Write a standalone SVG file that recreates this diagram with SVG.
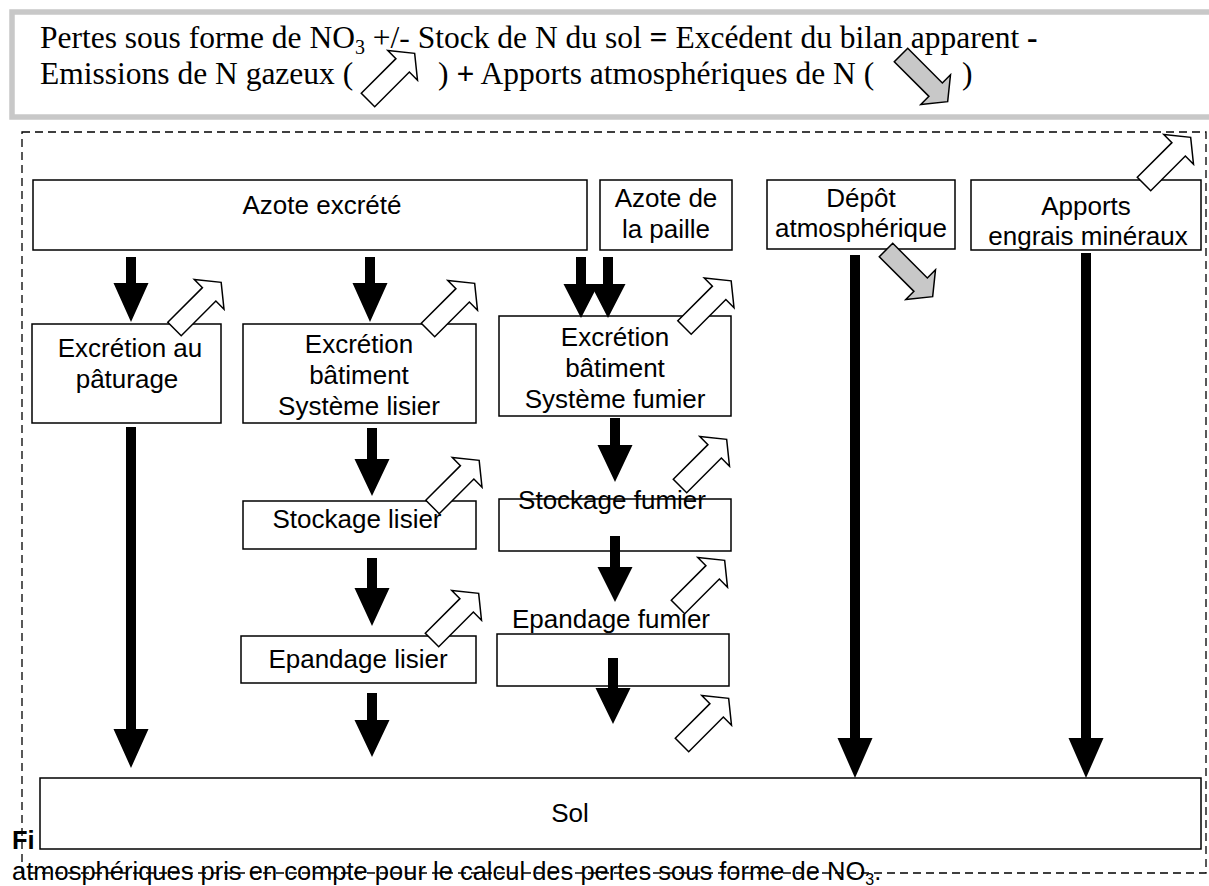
<svg xmlns="http://www.w3.org/2000/svg" xmlns:xlink="http://www.w3.org/1999/xlink" width="1209" height="886" viewBox="0 0 1209 886">
<defs>
<style>
.box{fill:#fff;stroke:#000;stroke-width:1.5}
.lbl{font-family:"Liberation Sans",Arial,sans-serif;font-size:26px;text-anchor:middle;fill:#000}
.hdr{font-family:"Liberation Serif","Times New Roman",serif;font-size:31.5px;fill:#000}
.cap{font-family:"Liberation Sans",Arial,sans-serif;font-size:25.5px;fill:#000}
.flow{fill:#000;stroke:none}
.emis{fill:#fff;stroke:#000;stroke-width:1.5}
.atm{fill:#c8c8c8;stroke:#000;stroke-width:1.5}
</style>
<path id="blk" d="M0,-9.5 H49 V-21 L66,0 L49,21 V9.5 H0 Z"/>
</defs>
<rect width="1209" height="886" fill="#fff"/>

<g id="header">
<rect x="12" y="12" width="1215" height="105" fill="#fff" stroke="#c8c8c8" stroke-width="5.5"/>
<text class="hdr" x="40" y="48">Pertes sous forme de NO<tspan font-size="20" dy="6">3</tspan><tspan dy="-6"> +/- Stock de N du sol </tspan><tspan font-weight="bold">=</tspan> Excédent du bilan apparent <tspan font-weight="bold">-</tspan></text>
<text class="hdr" x="40" y="84">Emissions de N gazeux (</text>
<text class="hdr" x="438" y="84">) <tspan font-weight="bold">+</tspan> Apports atmosphériques de N (</text>
<text class="hdr" x="962" y="84">)</text>
<use xlink:href="#blk" class="emis" transform="translate(368,100) rotate(-45)"/>
<use xlink:href="#blk" class="atm" transform="translate(901,55) rotate(45)"/>
</g>

<rect id="frame" x="22" y="132" width="1184" height="741" fill="none" stroke="#000" stroke-width="1.3" stroke-dasharray="8 5"/>

<g id="caption">
<text class="cap" x="12" y="849" font-weight="bold" font-size="27">Fi</text>
<text class="cap" x="12" y="880">atmosphériques pris en compte pour le calcul des pertes sous forme de NO<tspan font-size="16" dy="5">3</tspan><tspan dy="-5">.</tspan></text>
</g>

<g id="n-azote-excrete"><rect class="box" x="33" y="180" width="554" height="70"/><text class="lbl" x="322" y="214">Azote excrété</text></g>
<g id="n-azote-paille"><rect class="box" x="600" y="180" width="132" height="70"/><text class="lbl" x="666" y="207">Azote de</text><text class="lbl" x="666" y="238">la paille</text></g>
<g id="n-depot"><rect class="box" x="767" y="180" width="188" height="69"/><text class="lbl" x="861" y="207">Dépôt</text><text class="lbl" x="861" y="237">atmosphérique</text></g>
<g id="n-engrais"><rect class="box" x="971" y="180" width="230" height="70"/><text class="lbl" x="1086" y="215">Apports</text><text class="lbl" x="1088" y="245">engrais minéraux</text></g>
<g id="n-paturage"><rect class="box" x="32" y="324" width="189" height="99"/><text class="lbl" x="130" y="357">Excrétion au</text><text class="lbl" x="127" y="388">pâturage</text></g>
<g id="n-batiment-lisier"><rect class="box" x="243" y="324" width="233" height="99"/><text class="lbl" x="359" y="353">Excrétion</text><text class="lbl" x="359" y="384">bâtiment</text><text class="lbl" x="359" y="415">Système lisier</text></g>
<g id="n-batiment-fumier"><rect class="box" x="499" y="316" width="232" height="100"/><text class="lbl" x="615" y="346">Excrétion</text><text class="lbl" x="615" y="377">bâtiment</text><text class="lbl" x="615" y="408">Système fumier</text></g>
<g id="n-stockage-lisier"><rect class="box" x="243" y="501" width="233" height="48"/><text class="lbl" x="357" y="528">Stockage lisier</text></g>
<g id="n-stockage-fumier"><rect class="box" x="499" y="499" width="232" height="52"/><text class="lbl" x="612" y="509">Stockage fumier</text></g>
<g id="n-epandage-lisier"><rect class="box" x="241" y="636" width="235" height="47"/><text class="lbl" x="358" y="668">Epandage lisier</text></g>
<g id="n-epandage-fumier"><rect class="box" x="497" y="634" width="232" height="52"/><text class="lbl" x="611" y="628">Epandage fumier</text></g>
<g id="n-sol"><rect class="box" x="40" y="778" width="1161" height="71"/><text class="lbl" x="570" y="822">Sol</text></g>

<g id="connectors">
<path class="flow" d="M126,257 H136 V283 H148.5 L131,322 L113.5,283 H126 Z"/>
<path class="flow" d="M365,257 H375 V283 H387.5 L370,322 L352.5,283 H365 Z"/>
<path class="flow" d="M576,257 H586 V284 H598.5 L581,318 L563.5,284 H576 Z"/>
<path class="flow" d="M603,257 H613 V284 H625.5 L608,318 L590.5,284 H603 Z"/>
<path class="flow" d="M126,427 H136 V729 H148.5 L131,768 L113.5,729 H126 Z"/>
<path class="flow" d="M367,428 H377 V459 H389.5 L372,496 L354.5,459 H367 Z"/>
<path class="flow" d="M367,558 H377 V588 H389.5 L372,626 L354.5,588 H367 Z"/>
<path class="flow" d="M367,693 H377 V720 H389.5 L372,757 L354.5,720 H367 Z"/>
<path class="flow" d="M610,418 H620 V445 H632.5 L615,482 L597.5,445 H610 Z"/>
<path class="flow" d="M610,536 H620 V567 H632.5 L615,602 L597.5,567 H610 Z"/>
<path class="flow" d="M608,658 H618 V688 H630.5 L613,724 L595.5,688 H608 Z"/>
<path class="flow" d="M850,255 H860 V738 H872.5 L855,778 L837.5,738 H850 Z"/>
<path class="flow" d="M1081,253 H1091 V738 H1103.5 L1086,778 L1068.5,738 H1081 Z"/>
</g>

<g id="emissions">
<use xlink:href="#blk" class="emis" transform="translate(174.5,329) rotate(-45)"/>
<use xlink:href="#blk" class="emis" transform="translate(428,330) rotate(-45)"/>
<use xlink:href="#blk" class="emis" transform="translate(684.5,327.5) rotate(-45)"/>
<use xlink:href="#blk" class="emis" transform="translate(432.5,507) rotate(-45)"/>
<use xlink:href="#blk" class="emis" transform="translate(432,640) rotate(-45)"/>
<use xlink:href="#blk" class="emis" transform="translate(680,486) rotate(-45)"/>
<use xlink:href="#blk" class="emis" transform="translate(678,607) rotate(-45)"/>
<use xlink:href="#blk" class="emis" transform="translate(682,745) rotate(-45)"/>
<use xlink:href="#blk" class="emis" transform="translate(1144,184) rotate(-45)"/>
<use xlink:href="#blk" class="atm" transform="translate(886,250) rotate(45)"/>
</g>
</svg>
